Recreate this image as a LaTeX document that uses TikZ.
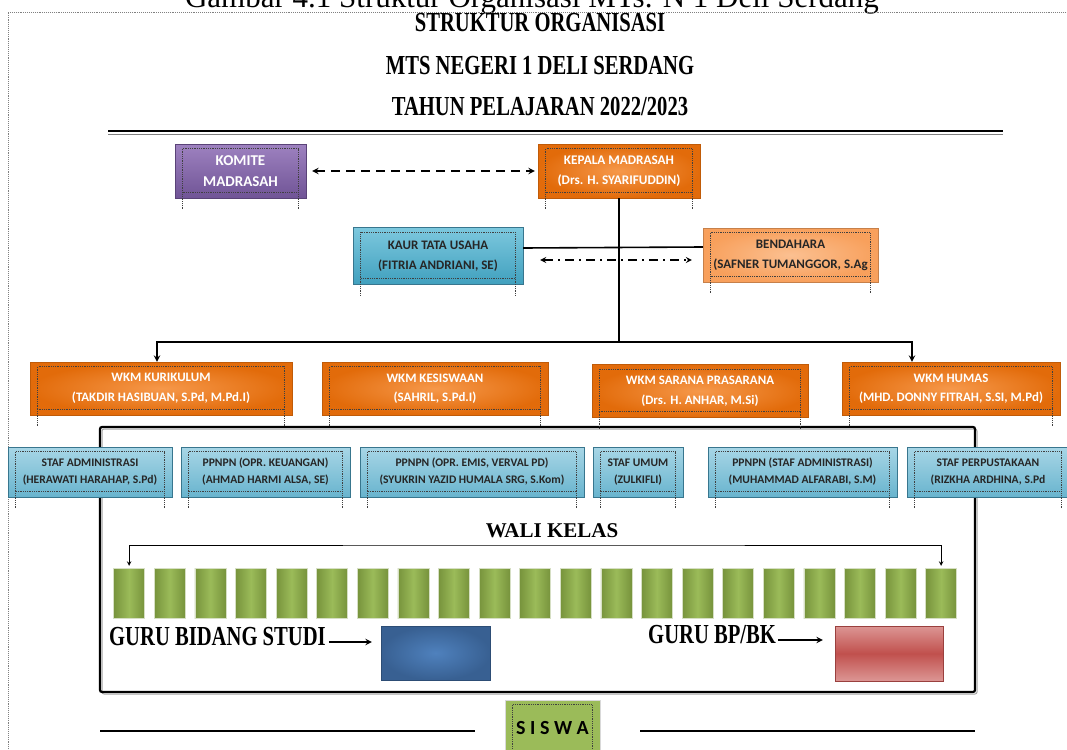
\documentclass[tikz,border=0pt]{standalone}
\usepackage{fontspec}
\setmainfont{Liberation Serif}
\setsansfont{Carlito}
\newfontfamily\titlefont[FakeStretch=0.75]{Liberation Serif}
\usepackage{xcolor}
\usetikzlibrary{arrows, positioning, calc}
\definecolor{komitecolor}{RGB}{112,84,150}
\definecolor{komitelight}{RGB}{158,130,192}
\definecolor{kepalacolor}{RGB}{226,107,10}
\definecolor{kepalalight}{RGB}{246,152,74}
\definecolor{bendaharacolor}{RGB}{248,160,92}
\definecolor{bendaharalight}{RGB}{251,192,145}
\definecolor{kaurcolor}{RGB}{64,160,190}
\definecolor{kaurlight}{RGB}{125,200,222}
\definecolor{stafcolor}{RGB}{104,180,206}
\definecolor{staflight}{RGB}{168,214,230}
\definecolor{stafdark}{RGB}{56,118,142}
\definecolor{walicolor}{RGB}{119,147,60}
\definecolor{walilight}{RGB}{155,187,89}
\definecolor{gurucolor}{RGB}{56,96,146}
\definecolor{gurulight}{RGB}{79,129,189}
\definecolor{bkcolor}{RGB}{192,80,77}
\definecolor{bklight}{RGB}{220,150,148}
\definecolor{siswacolor}{RGB}{155,187,89}
\tikzstyle{arrow} = [->,>=stealth]
\tikzstyle{judul} = [anchor=base, inner sep=0pt, font=\titlefont\bfseries\fontsize{27.5}{30}\selectfont]
\tikzstyle{orgbox} = [rectangle, align=center, inner sep=0pt]
\tikzstyle{komitebox} = [orgbox, top color=komitelight, bottom color=komitecolor, draw=komitecolor!80!black, text=white, minimum height=54pt, font=\sffamily\bfseries\fontsize{15}{21}\selectfont]
\tikzstyle{kepalabox} = [orgbox, inner color=kepalalight, outer color=kepalacolor, draw=kepalacolor!85!black, text=white, minimum height=54pt, font=\sffamily\bfseries\fontsize{13.2}{20}\selectfont]
\tikzstyle{wkmbox} = [kepalabox, minimum height=53pt, font=\sffamily\bfseries\fontsize{12.9}{19.5}\selectfont]
\tikzstyle{kaurbox} = [orgbox, top color=kaurlight, bottom color=kaurcolor, draw=stafdark, text=black!85, minimum height=57pt, font=\sffamily\bfseries\fontsize{13}{20}\selectfont]
\tikzstyle{bendaharabox} = [orgbox, inner color=bendaharalight, outer color=bendaharacolor, draw=bendaharacolor!80!black, text=black!85, minimum height=54pt, font=\sffamily\bfseries\fontsize{13}{20}\selectfont]
\tikzstyle{stafbox} = [orgbox, top color=staflight, bottom color=stafcolor, draw=stafdark, text=black!85, minimum height=50pt, font=\sffamily\bfseries\fontsize{11.6}{17}\selectfont]
\tikzstyle{walibox} = [rectangle, minimum width=31pt, minimum height=50pt, left color=walicolor, right color=walicolor, middle color=walilight, draw=white!70!walicolor]
\tikzstyle{innerdot} = [densely dotted, line width=0.8pt, black!75]

\begin{document}
\begin{tikzpicture}[x=1pt, y=-1pt]
\useasboundingbox (0,0) rectangle (1067,749);
\begin{scope}
\clip (0,0) rectangle (1067,749);
\fill[white] (0,0) rectangle (1067,749);

% Caption and page frame
\node[anchor=base, inner sep=0pt, font=\rmfamily\fontsize{31}{31}\selectfont] (caption) at (532,8) {Gambar 4.1 Struktur Organisasi MTs. N 1 Deli Serdang};
\draw[gray, densely dotted, line width=0.9pt] (8,749) -- (8,12) -- (1067,12);

% Titles
\node[judul] (judul1) at (540,32) {STRUKTUR ORGANISASI};
\node[judul] (judul2) at (540,75) {MTS NEGERI 1 DELI SERDANG};
\node[judul] (judul3) at (540,115) {TAHUN PELAJARAN 2022/2023};
\draw[gray, line width=1pt] (108,134) -- (1003,134);
\draw[line width=2.6pt] (108,131) -- (1003,131);

% Top boxes
\node[komitebox, minimum width=131pt] (komite) at (240.5,171) {KOMITE\\MADRASAH};
\node[kepalabox, minimum width=162pt] (kepala) at (619,171) {KEPALA MADRASAH\\(Drs. H. SYARIFUDDIN)};
\node[kaurbox, minimum width=170pt] (kaur) at (438,256) {KAUR TATA USAHA\\(FITRIA ANDRIANI, SE)};
\node[bendaharabox, minimum width=175pt] (bendahara) at (790.5,255) {BENDAHARA\\(SAFNER TUMANGGOR, S.Ag};
\coordinate (wkmbus) at (619,342);

% WKM boxes
\node[wkmbox, minimum width=262pt] (kurikulum) at (161,388.5) {WKM KURIKULUM\\(TAKDIR HASIBUAN, S.Pd, M.Pd.I)};
\node[wkmbox, minimum width=226pt] (kesiswaan) at (435,388.5) {WKM KESISWAAN\\(SAHRIL, S.Pd.I)};
\node[wkmbox, minimum width=216pt] (sarana) at (700,391) {WKM SARANA PRASARANA\\(Drs. H. ANHAR, M.Si)};
\node[wkmbox, minimum width=218pt] (humas) at (951,388.5) {WKM HUMAS\\(MHD. DONNY FITRAH, S.SI, M.Pd)};

% Frame round the staff and teachers
\draw[gray!70, line width=1pt, rounded corners=2pt] (102,429) rectangle (977,694);
\draw[line width=2.2pt, rounded corners=2pt] (100,427) rectangle (975,692);

% Staff boxes
\node[stafbox, minimum width=164pt] (stafadm) at (90,472) {STAF ADMINISTRASI\\(HERAWATI HARAHAP, S.Pd)};
\node[stafbox, minimum width=169pt] (keuangan) at (265.5,472) {PPNPN (OPR. KEUANGAN)\\(AHMAD HARMI ALSA, SE)};
\node[stafbox, minimum width=224pt] (emis) at (472,472) {PPNPN (OPR. EMIS, VERVAL PD)\\(SYUKRIN YAZID HUMALA SRG, S.Kom)};
\node[stafbox, minimum width=90pt] (umum) at (638,472) {STAF UMUM\\(ZULKIFLI)};
\node[stafbox, minimum width=189pt] (alfarabi) at (802.5,472) {PPNPN (STAF ADMINISTRASI)\\(MUHAMMAD ALFARABI, S.M)};
\node[stafbox, minimum width=162pt] (perpus) at (988,472) {STAF PERPUSTAKAAN\\(RIZKHA ARDHINA, S.Pd};

% Wali kelas
\node[anchor=base, inner sep=0pt, font=\rmfamily\bfseries\fontsize{21}{21}\selectfont] (walikelas) at (552,537) {WALI KELAS};
\coordinate (walibar) at (552,545);
\foreach \i in {1,...,21}
  \node[walibox] (wali\i) at ({88.5+40.6*\i},593) {};

% Guru
\node[judul, anchor=base west] (gbs) at (109,645) {GURU BIDANG STUDI};
\node[rectangle, minimum width=109pt, minimum height=54pt, inner color=gurulight, outer color=gurucolor, draw=gurucolor!80!black] (gurubox) at (435.5,653) {};
\node[judul, anchor=base west] (gbk) at (648,643) {GURU BP/BK};
\node[rectangle, minimum width=108pt, minimum height=55pt, top color=bklight, bottom color=bklight, middle color=bkcolor, draw=bkcolor!80!black] (bkbox) at (889,653.5) {};

% Siswa
\draw[line width=1.8pt] (100,731) -- (475,731);
\draw[line width=1.8pt] (640,731) -- (975,731);
\node[rectangle, minimum width=95pt, minimum height=56pt, fill=siswacolor, draw=white!70!gray, font=\sffamily\bfseries\fontsize{20}{20}\selectfont] (siswa) at (552.5,728) {S I S W A};

% Dotted inner frames of the text boxes
\foreach \n in {komite, kepala, kaur, bendahara, kurikulum, kesiswaan, sarana, humas, stafadm, keuangan, emis, umum, alfarabi, perpus, siswa} {
  \draw[innerdot] ([shift={(8,5)}]\n.north west) rectangle ([shift={(-8,-6)}]\n.south east);
  \draw[innerdot] ([shift={(8,-6)}]\n.south west) -- ++(0,17);
  \draw[innerdot] ([shift={(-8,-6)}]\n.south east) -- ++(0,17);
}

% Connectors
\draw[<->, >=stealth, line width=1.8pt, dash pattern=on 9pt off 6pt] ([xshift=6pt]komite.east) -- ([xshift=-3pt]kepala.west);
\draw[line width=1.8pt] (kepala.south) -- (wkmbus);
\draw[line width=1.6pt] ([yshift=8pt]kaur.east) -- ([yshift=8pt]bendahara.west);
\draw[<->, >=stealth, line width=1.6pt, dash pattern=on 9pt off 5pt on 2pt off 5pt] ([shift={(17,4)}]kaur.east) -- ([shift={(-11,5)}]bendahara.west);
\draw[arrow, line width=1.8pt] (wkmbus) -| ([xshift=-4pt]kurikulum.north);
\draw[arrow, line width=1.8pt] (wkmbus) -| ([xshift=-39pt]humas.north);
\draw[<->, >=stealth, line width=1pt] ([yshift=2pt]wali1.north) |- (walibar) -| ([yshift=2pt]wali21.north);
\draw[arrow, line width=1.8pt] ($(gbs.base east)+(3,-3)$) -- ($(gurubox.west |- gbs.base)+(-9,-3)$);
\draw[arrow, line width=1.8pt] ($(gbk.base east)+(2,-3)$) -- ($(bkbox.west |- gbk.base)+(-12,-3)$);
\end{scope}
\end{tikzpicture}
\end{document}
